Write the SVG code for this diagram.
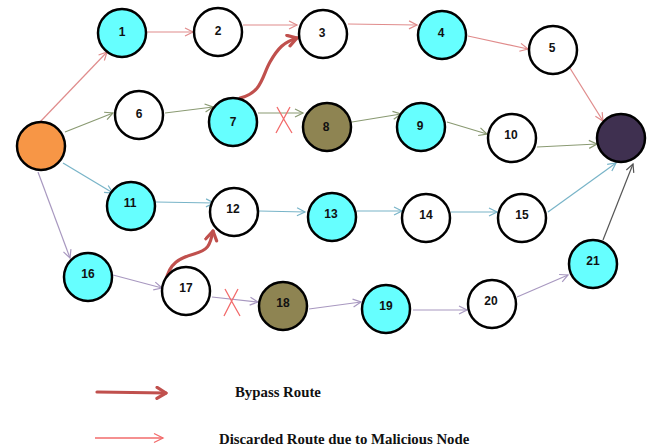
<svg xmlns="http://www.w3.org/2000/svg" width="647" height="448" viewBox="0 0 647 448">
<defs>
<style>
.n{stroke:#000;stroke-width:2.5}
.w{fill:#fff}.c{fill:#66ffff}.o{fill:#8e8452}
.t{font-family:"Liberation Sans",Arial,sans-serif;font-weight:bold;font-size:12px;text-anchor:middle;fill:#111}
.e{fill:none;stroke-width:1.2}
.pk{stroke:#e08c8c;marker-end:url(#mpk)}
.gr{stroke:#8a9a72;marker-end:url(#mgr)}
.bl{stroke:#78b4c8;marker-end:url(#mbl)}
.pu{stroke:#a898c0;marker-end:url(#mpu)}
.dk{stroke:#555;marker-end:url(#mdk)}
.by{fill:none;stroke:#c0504d;stroke-width:3.2;stroke-linecap:round;marker-end:url(#mby)}
.x{fill:none;stroke:#f26b6b;stroke-width:1.3}
.lg{font-family:"Liberation Serif","Times New Roman",serif;font-weight:bold;font-size:14.8px;fill:#111}
</style>
<marker id="mpk" markerUnits="userSpaceOnUse" markerWidth="12" markerHeight="12" refX="9" refY="5" orient="auto"><path d="M1,1 L9,5 L1,9" fill="none" stroke="#e08c8c" stroke-width="1.2"/></marker>
<marker id="mgr" markerUnits="userSpaceOnUse" markerWidth="12" markerHeight="12" refX="9" refY="5" orient="auto"><path d="M1,1 L9,5 L1,9" fill="none" stroke="#8a9a72" stroke-width="1.2"/></marker>
<marker id="mbl" markerUnits="userSpaceOnUse" markerWidth="12" markerHeight="12" refX="9" refY="5" orient="auto"><path d="M1,1 L9,5 L1,9" fill="none" stroke="#78b4c8" stroke-width="1.2"/></marker>
<marker id="mpu" markerUnits="userSpaceOnUse" markerWidth="12" markerHeight="12" refX="9" refY="5" orient="auto"><path d="M1,1 L9,5 L1,9" fill="none" stroke="#a898c0" stroke-width="1.2"/></marker>
<marker id="mdk" markerUnits="userSpaceOnUse" markerWidth="12" markerHeight="12" refX="9" refY="5" orient="auto"><path d="M1,1 L9,5 L1,9" fill="none" stroke="#555" stroke-width="1.2"/></marker>
<marker id="mlg" markerUnits="userSpaceOnUse" markerWidth="14" markerHeight="14" refX="10" refY="6" orient="auto"><path d="M1,1.5 L10,6 L1,10.5" fill="none" stroke="#f26b6b" stroke-width="1.3"/></marker>
<marker id="mby" markerUnits="userSpaceOnUse" markerWidth="16" markerHeight="16" refX="11" refY="7" orient="auto"><path d="M2,1.5 L11,7 L2,12.5" fill="none" stroke="#c0504d" stroke-width="3.2" stroke-linecap="round" stroke-linejoin="round"/></marker>
</defs>
<rect width="647" height="448" fill="#fff"/>
<g id="connectors">
<path class="e pk" d="M40,122 L107,52"/>
<path class="e pk" d="M147,32 L193,32"/>
<path class="e pk" d="M243,25 L297,25"/>
<path class="e pk" d="M348,24 L417,25"/>
<path class="e pk" d="M468,36 L528,49"/>
<path class="e pk" d="M568,65 L603,121"/>
<path class="e gr" d="M65,132 L113,113"/>
<path class="e gr" d="M165,113 L213,107"/>
<path class="e gr" d="M258,113 L303,113"/>
<path class="e gr" d="M352,122 L401,114"/>
<path class="e gr" d="M447,122 L487,134"/>
<path class="e gr" d="M537,147 L597,144"/>
<path class="e bl" d="M63,163 L113,193"/>
<path class="e bl" d="M156,202 L214,203"/>
<path class="e bl" d="M259,211 L305,212"/>
<path class="e bl" d="M357,211 L402,211"/>
<path class="e bl" d="M451,212 L497,212"/>
<path class="e bl" d="M548,212 L616,163"/>
<path class="e pu" d="M38,172 L70,258"/>
<path class="e pu" d="M113,275 L162,288"/>
<path class="e pu" d="M212,297 L258,302"/>
<path class="e pu" d="M309,309 L361,302"/>
<path class="e pu" d="M413,310 L467,310"/>
<path class="e pu" d="M517,297 L568,275"/>
<path class="e dk" d="M603,240 L633,164"/>
<path class="by" d="M240,98 C262,93 262,76 270,62 S284,42 297,38"/>
<path class="by" d="M166,281 C169,263 180,258 194,254 S210,246 213,231"/>
<path class="x" d="M277,107 Q284,120 292,133 M290,107 Q283,120 276,133"/>
<path class="x" d="M225,289 Q232,302 240,316 M238,289 Q231,302 224,316"/>
</g>
<g id="src"><circle class="n" cx="41" cy="146" r="24" fill="#f79646"/></g>
<g id="dest"><circle class="n" cx="621" cy="138" r="24" fill="#3f3050"/></g>
<g id="n1"><circle class="n c" cx="122" cy="33" r="24"/><text class="t" x="122" y="36">1</text></g>
<g id="n2"><circle class="n w" cx="218" cy="32" r="24"/><text class="t" x="218" y="35">2</text></g>
<g id="n3"><circle class="n w" cx="323" cy="34" r="24"/><text class="t" x="322" y="37">3</text></g>
<g id="n4"><circle class="n c" cx="442" cy="35" r="24"/><text class="t" x="441" y="37">4</text></g>
<g id="n5"><circle class="n w" cx="553" cy="50" r="24"/><text class="t" x="552" y="52">5</text></g>
<g id="n6"><circle class="n w" cx="139" cy="115" r="24"/><text class="t" x="139" y="118">6</text></g>
<g id="n7"><circle class="n c" cx="233" cy="122" r="24"/><text class="t" x="233" y="126">7</text></g>
<g id="n8"><circle class="n o" cx="327" cy="127" r="24"/><text class="t" x="326" y="131">8</text></g>
<g id="n9"><circle class="n c" cx="421" cy="127" r="24"/><text class="t" x="420" y="130">9</text></g>
<g id="n10"><circle class="n w" cx="512" cy="138" r="24"/><text class="t" x="511" y="139">10</text></g>
<g id="n11"><circle class="n c" cx="131" cy="206" r="24"/><text class="t" x="130" y="207">11</text></g>
<g id="n12"><circle class="n w" cx="234" cy="212" r="24"/><text class="t" x="233" y="213">12</text></g>
<g id="n13"><circle class="n c" cx="332" cy="217" r="24"/><text class="t" x="331" y="218">13</text></g>
<g id="n14"><circle class="n w" cx="426" cy="218" r="24"/><text class="t" x="426" y="219">14</text></g>
<g id="n15"><circle class="n w" cx="522" cy="218" r="24"/><text class="t" x="522" y="219">15</text></g>
<g id="n16"><circle class="n c" cx="88" cy="277" r="24"/><text class="t" x="88" y="278">16</text></g>
<g id="n17"><circle class="n w" cx="186" cy="291" r="24"/><text class="t" x="186" y="292">17</text></g>
<g id="n18"><circle class="n o" cx="283" cy="306" r="24"/><text class="t" x="283" y="307">18</text></g>
<g id="n19"><circle class="n c" cx="386" cy="309" r="24"/><text class="t" x="386" y="310">19</text></g>
<g id="n20"><circle class="n w" cx="492" cy="304" r="24"/><text class="t" x="491" y="305">20</text></g>
<g id="n21"><circle class="n c" cx="593" cy="264" r="24"/><text class="t" x="593" y="265">21</text></g>
<g id="legend">
<path class="by" d="M97,392 L166,393"/>
<text class="lg" x="235" y="397">Bypass Route</text>
<path d="M95,438 L163,438" fill="none" stroke="#f26b6b" stroke-width="1.3" marker-end="url(#mlg)"/>
<text class="lg" x="219" y="444">Discarded Route due to Malicious Node</text>
</g>
</svg>
